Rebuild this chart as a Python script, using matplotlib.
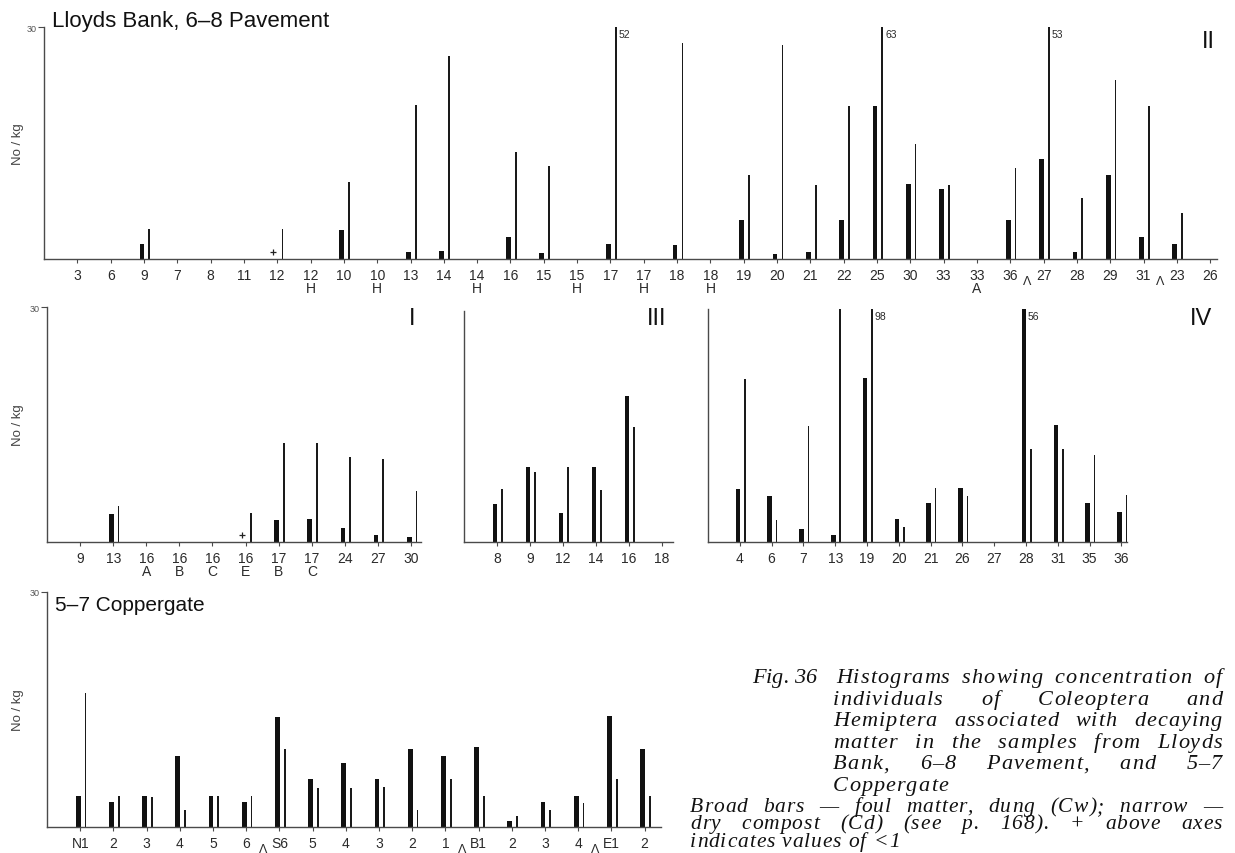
import matplotlib
matplotlib.use("Agg")
import matplotlib.pyplot as plt
import matplotlib.transforms as mtransforms
from matplotlib import ft2font
from matplotlib.font_manager import FontProperties, findfont
import numpy as np

W, H, DPI = 1235, 854, 100

# ---------------- data ----------------
cats_II = ["3", "6", "9", "7", "8", "11", "12", "12\nH", "10", "10\nH", "13", "14", "14\nH",
           "16", "15", "15\nH", "17", "17\nH", "18", "18\nH", "19", "20", "21", "22", "25",
           "30", "33", "33\nA", "36", "27", "28", "29", "31", "23", "26"]
broad_II = [0, 0, 1.9, 0, 0, 0, 0, 0, 3.8, 0, 0.9, 1.0, 0, 2.9, 0.8, 0, 2.0, 0, 1.8, 0,
            5.0, 0.6, 0.9, 5.1, 19.8, 9.7, 9.0, 0, 5.1, 12.9, 0.9, 10.9, 2.9, 1.9, 0]
narrow_II = [0, 0, 3.9, 0, 0, 0, 3.9, 0, 9.9, 0, 19.9, 26.3, 0, 13.9, 12.0, 0, 52, 0, 27.9, 0,
             10.9, 27.7, 9.6, 19.8, 63, 14.9, 9.6, 0, 11.8, 53, 7.9, 23.1, 19.8, 5.9, 0]
plus_II = ["12"]
breaks_II = [29.5, 33.5]

cats_I = ["9", "13", "16\nA", "16\nB", "16\nC", "16\nE", "17\nB", "17\nC", "24", "27", "30"]
broad_I = [0, 3.6, 0, 0, 0, 0, 2.8, 2.9, 1.8, 0.85, 0.6]
narrow_I = [0, 4.6, 0, 0, 0, 3.7, 12.6, 12.6, 10.9, 10.6, 6.5]
plus_I = ["16\nE"]

cats_III = ["8", "9", "12", "14", "16", "18"]
broad_III = [4.9, 9.8, 3.75, 9.8, 18.9, 0]
narrow_III = [6.9, 9.1, 9.7, 6.8, 15.0, 0]

cats_IV = ["4", "6", "7", "13", "19", "20", "21", "26", "27", "28", "31", "35", "36"]
broad_IV = [6.8, 5.9, 1.7, 0.9, 21.1, 2.9, 5.0, 6.9, 0, 56, 15.1, 5.0, 3.8]
narrow_IV = [21.0, 2.8, 14.9, 30, 98, 1.9, 6.9, 5.9, 0, 12.0, 12.0, 11.2, 6.0]

cats_C = ["N1", "2", "3", "4", "5", "6", "S6", "5", "4", "3", "2", "1", "B1", "2", "3", "4", "E1", "2"]
broad_C = [4.0, 3.2, 4.0, 9.1, 4.0, 3.2, 14.0, 6.1, 8.2, 6.1, 10.0, 9.1, 10.2, 0.8, 3.2, 4.0, 14.2, 10.0]
narrow_C = [17.1, 4.0, 3.8, 2.2, 4.0, 4.0, 9.9, 5.0, 5.0, 5.1, 2.2, 6.1, 4.0, 1.4, 2.2, 3.1, 6.1, 4.0]
breaks_C = [6.5, 12.5, 16.5]

caption_head = "Fig. 36"
caption_lines = ["Histograms showing concentration of",
                 "individuals of Coleoptera and",
                 "Hemiptera associated with decaying",
                 "matter in the samples from Lloyds",
                 "Bank, 6–8 Pavement, and 5–7",
                 "Coppergate"]
note_lines = ["Broad bars — foul matter, dung (Cw); narrow —",
              "dry compost (Cd) (see p. 168). + above axes",
              "indicates values of <1"]

YMAX = 30
SANS = ["Liberation Sans", "DejaVu Sans"]
plt.rcParams["font.family"] = SANS

fig = plt.figure(figsize=(W / DPI, H / DPI), dpi=DPI)
fig.patch.set_facecolor("white")

AX_COL = "#4a4a4a"
TXT_COL = "#2a2a2a"


def panel(left, right, top, bottom, cats, broad, narrow, plus=(), breaks=(),
          show30=True, ylabel=True, roman=None, roman_xy=None, title=None, title_xy=None,
          title_size=15.5):
    ax = fig.add_axes([left / W, 1 - bottom / H, (right - left) / W, (bottom - top) / H])
    n = len(cats)
    x = np.arange(1, n + 1)
    ax.set_ylim(0, YMAX)
    b = np.asarray(broad, float)
    nr = np.asarray(narrow, float)
    ax.bar(x - 0.06, np.minimum(b, YMAX), width=0.145, color="#111111", linewidth=0)
    ax.bar(x + 0.16, np.minimum(nr, YMAX), width=0.05, color="#1a1a1a", linewidth=0)
    for xi, v in zip(x, b):
        if v > YMAX:
            ax.text(xi + 0.05, YMAX - 0.9, f"{v:g}", fontsize=7.5, color=TXT_COL, va="center")
    for xi, v in zip(x, nr):
        if v > YMAX:
            ax.text(xi + 0.25, YMAX - 0.9, f"{v:g}", fontsize=7.5, color=TXT_COL, va="center")
    for c in plus:
        xi = cats.index(c) + 1
        ax.plot([xi - 0.12], [0.9], marker="+", ms=5, mew=0.9, color="#222")
    for sp in ("top", "right"):
        ax.spines[sp].set_visible(False)
    for sp in ("left", "bottom"):
        ax.spines[sp].set_color(AX_COL)
        ax.spines[sp].set_linewidth(1.0)
    ax.set_xticks(x)
    ax.set_xticklabels(cats, fontsize=10, color=TXT_COL, linespacing=0.95)
    ax.tick_params(axis="x", length=3, width=0.8, color=AX_COL, pad=3.5)
    if show30:
        ax.set_yticks([YMAX])
        ax.set_yticklabels(["30"], fontsize=6.5, color="#555")
        ax.tick_params(axis="y", length=4, width=0.8, color=AX_COL, pad=1)
    else:
        ax.set_yticks([])
    if ylabel:
        fig.text(18 / W, 1 - ((top + bottom) / 2) / H, "No / kg", rotation=90,
                 fontsize=9.5, color="#444", ha="center", va="center")
    if roman:
        fig.text(roman_xy[0] / W, 1 - roman_xy[1] / H, roman, fontsize=17,
                 color="#111", ha="center", va="center")
    if title:
        fig.text(title_xy[0] / W, 1 - title_xy[1] / H, title, fontsize=title_size,
                 color="#111", ha="left", va="baseline")
    trans = mtransforms.blended_transform_factory(ax.transData, fig.transFigure)
    for bx in breaks:
        ax.text(bx, 1 - (bottom + 22) / H, "Λ", transform=trans, fontsize=9,
                color=TXT_COL, ha="center", va="center")
    return ax


axII = panel(44, 1217, 28, 260, cats_II, broad_II, narrow_II, plus=plus_II, breaks=breaks_II,
             roman="II", roman_xy=(1208, 42), title="Lloyds Bank, 6–8 Pavement",
             title_xy=(52, 27), title_size=16)
axII.set_xlim(0, (1217 - 44) / 33.32)

axI = panel(47, 421, 308, 543, cats_I, broad_I, narrow_I, plus=plus_I,
            roman="I", roman_xy=(412, 319))
axI.set_xlim(0, (421 - 47) / 33.1)

axIII = panel(464, 673, 312, 543, cats_III, broad_III, narrow_III, show30=False, ylabel=False,
              roman="III", roman_xy=(657, 319))
axIII.set_xlim(0, (673 - 464) / 33.0)

axIV = panel(708, 1127, 310, 543, cats_IV, broad_IV, narrow_IV, show30=False, ylabel=False,
             roman="IV", roman_xy=(1201, 319))
axIV.set_xlim(0, (1127 - 708) / 31.8)

axC = panel(47, 661, 593, 828, cats_C, broad_C, narrow_C, breaks=breaks_C,
            title="5–7 Coppergate", title_xy=(55, 611), title_size=15)
axC.set_xlim(0, (661 - 47) / 33.2)

# ---------------- caption (letter-spaced, justified italic serif) ----------------
renderer = fig.canvas.get_renderer()
CAP_FP = FontProperties(family="Liberation Serif", style="italic")
_ft = ft2font.FT2Font(findfont(CAP_FP))


def raw_adv(s, size):
    _ft.set_size(size, DPI)
    return [_ft.load_char(ord(c)).linearHoriAdvance / 65536.0 for c in s]


_t = fig.text(0, 0, "Coppergate", fontproperties=CAP_FP, fontsize=20)
_w = _t.get_window_extent(renderer).width
_t.remove()
FACTOR = 2.0 ** round(np.log2(_w / sum(raw_adv("Coppergate", 20))))


def adv(s, size):
    return [a * FACTOR for a in raw_adv(s, size)]


def word_width(wd, size, track):
    a = adv(wd, size)
    return sum(a) + track * (len(wd) - 1)


def draw_word(wd, x, y, size, track):
    for c, a in zip(wd, adv(wd, size)):
        fig.text(x / W, 1 - y / H, c, fontproperties=CAP_FP, fontsize=size,
                 color="#111", ha="left", va="baseline")
        x += a + track
    return x


def put_line(words, x0, x1, y, size, track, justify=True):
    widths = [word_width(w, size, track) for w in words]
    if justify and len(words) > 1:
        gap = (x1 - x0 - sum(widths)) / (len(words) - 1)
    else:
        gap = adv(" ", size)[0] + 2 * track
    xx = x0
    for w, wd in zip(words, widths):
        draw_word(w, xx, y, size, track)
        xx += wd + gap


CAP1, TR1 = 16, 1.1
draw_word(caption_head, 752, 683, CAP1, 0.0)
y = 683
for i, ln in enumerate(caption_lines):
    x_start = 836 if i == 0 else 833
    put_line(ln.split(), x_start, 1222, y, CAP1, TR1, justify=(i < len(caption_lines) - 1))
    y += 21.6

CAP2, TR2 = 15.5, 0.9
y = 812
for i, ln in enumerate(note_lines):
    put_line(ln.split(), 690, 1222, y, CAP2, TR2, justify=(i < len(note_lines) - 1))
    y += 17.5

fig.savefig("out.png", dpi=DPI, facecolor="white")
